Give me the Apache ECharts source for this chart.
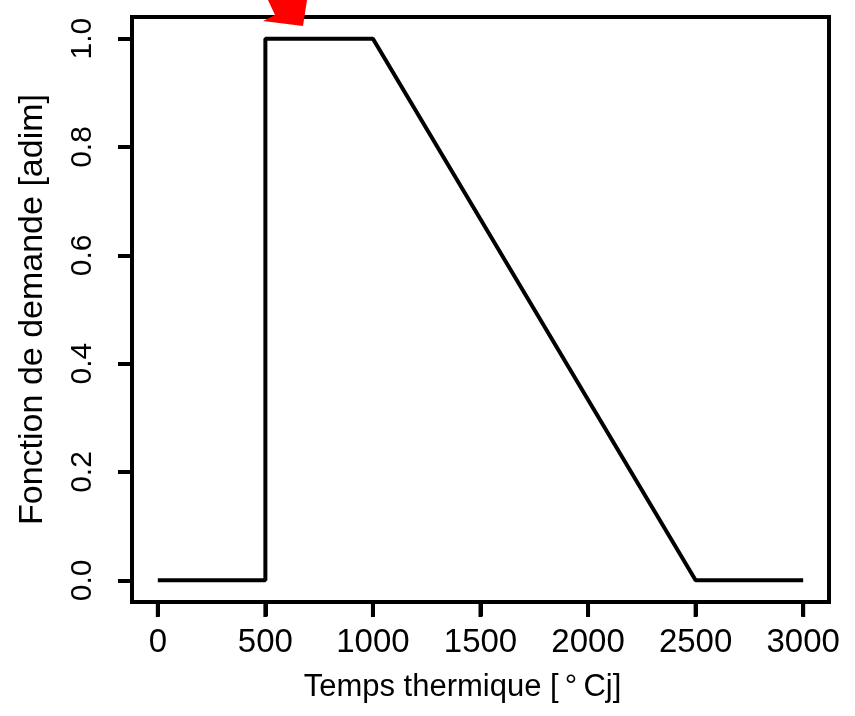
<!DOCTYPE html>
<html>
<head>
<meta charset="utf-8">
<script src="https://cdn.jsdelivr.net/npm/echarts@6/dist/echarts.min.js"></script>
<style>
  html, body { margin: 0; padding: 0; background: #fff; }
  #courbe { width: 855px; height: 716px; }
</style>
</head>
<body>
<div id="courbe"></div>
<script>
var tempsThermique = [0, 500, 500, 1000, 2500, 3000];
var demande = [0, 0, 1, 1, 0, 0];
var xTicks = [0, 500, 1000, 1500, 2000, 2500, 3000];
var yTicks = [0, 0.2, 0.4, 0.6, 0.8, 1.0];

var points = tempsThermique.map(function (t, i) { return [t, demande[i]]; });

var myChart = echarts.init(document.getElementById("courbe"));

var police = "Liberation Sans, Arial, Helvetica, sans-serif";
var trait = 4;
var yMin = -0.04, yMax = 1.04;

option = {
    backgroundColor: '#fff',
    animation: false,
    grid: {
        left: 132, right: 26, top: 17, bottom: 114,
        show: true,
        borderColor: '#000',
        borderWidth: trait,
        backgroundColor: 'transparent',
        outerBoundsMode: 'none'
    },
    xAxis: {
        type: 'value',
        position: 'bottom',
        min: -120, max: 3120,
        name: 'Temps thermique [\u2009°\u2009Cj]',
        nameLocation: 'middle',
        nameGap: 70,
        nameTextStyle: { fontSize: 31, color: '#000', fontFamily: police, padding: [0, 36, 0, 0] },
        axisLine: { show: true, onZero: false, lineStyle: { color: '#000', width: trait } },
        splitLine: { show: false },
        axisTick: { show: true, inside: false, length: 14, lineStyle: { color: '#000', width: trait }, customValues: xTicks },
        axisLabel: {
            fontSize: 33, color: '#000', fontFamily: police, margin: 24, customValues: xTicks,
            formatter: function (v) { return String(v); }
        }
    },
    yAxis: {
        type: 'value',
        position: 'left',
        min: yMin, max: yMax,
        name: 'Fonction de demande [adim]',
        nameLocation: 'middle',
        nameRotate: 90,
        nameGap: 82,
        nameTextStyle: { fontSize: 34, color: '#000', fontFamily: police },
        axisLine: { show: true, onZero: false, lineStyle: { color: '#000', width: trait } },
        splitLine: { show: false },
        axisTick: { show: true, inside: false, length: 14, lineStyle: { color: '#000', width: trait }, customValues: yTicks },
        axisLabel: {
            fontSize: 30, color: '#000', fontFamily: police, margin: 34, rotate: 90,
            customValues: yTicks,
            formatter: function (v) { return v.toFixed(1); }
        }
    },
    series: [
        {
            type: 'line',
            data: points,
            symbol: 'none',
            lineStyle: { color: '#000', width: trait }
        },
        {
            // graduations de l'axe x, sous le cadre
            type: 'scatter',
            data: xTicks.map(function (v) { return [v, yMin]; }),
            symbol: 'rect',
            symbolSize: [trait, 15],
            symbolOffset: [0, 7.5],
            itemStyle: { color: '#000', opacity: 1 },
            clip: false,
            silent: true,
            z: 50
        }
    ],
    graphic: [
        {
            type: 'polygon',
            z: 100,
            shape: { points: [[268, 0], [275, 15], [263, 21], [303, 26], [307, 0]] },
            style: { fill: '#ff0000' }
        }
    ]
};
myChart.setOption(option);

window.addEventListener('resize', function () {
    myChart.resize();
});
</script>
</body>
</html>
